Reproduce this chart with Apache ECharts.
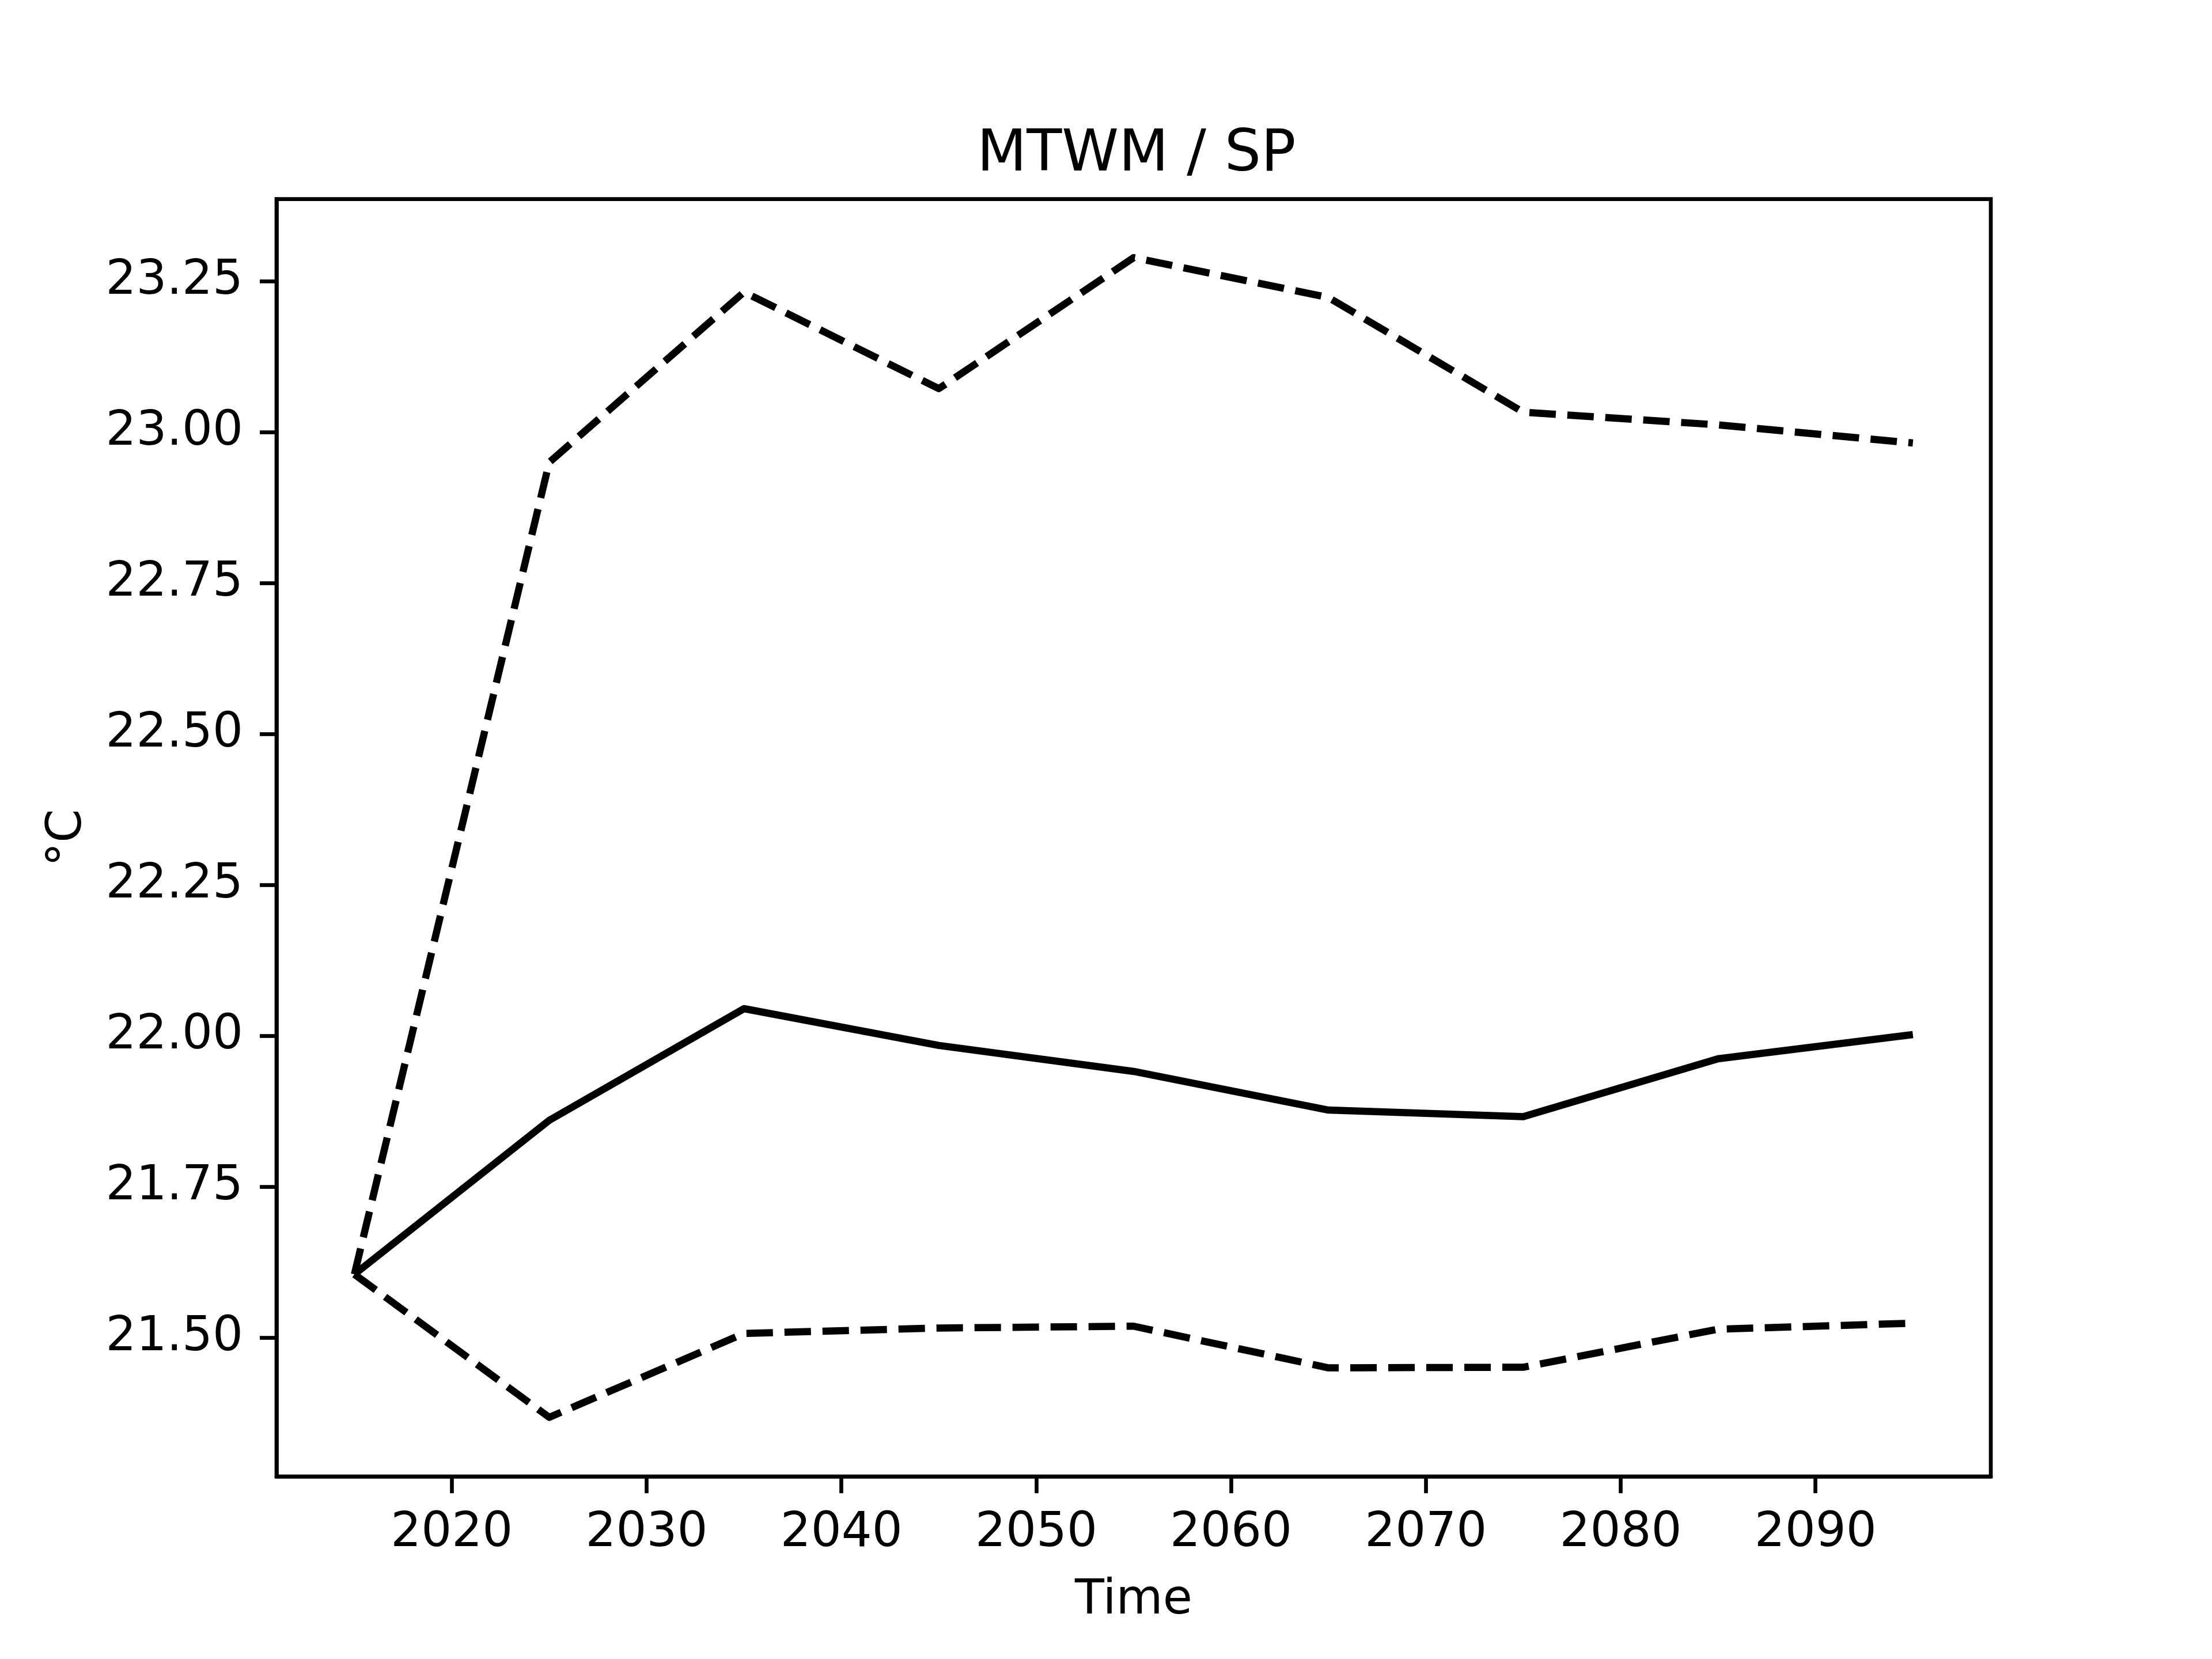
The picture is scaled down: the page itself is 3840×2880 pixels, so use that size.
<!DOCTYPE html>
<html>
<head>
<meta charset="utf-8">
<style>
  html, body { margin: 0; padding: 0; background: #ffffff; }
  #chart { width: 3840px; height: 2880px; }
</style>
<script src="https://cdn.jsdelivr.net/npm/echarts@6/dist/echarts.min.js"></script>
</head>
<body>
<div id="chart"></div>
<script>
const titleText = 'MTWM / SP';
const xLabelText = 'Time';
const yLabelText = '°C';

const years = [2015, 2025, 2035, 2045, 2055, 2065, 2075, 2085, 2095];
const meanValues  = [21.605, 21.860, 22.045, 21.984, 21.941, 21.877, 21.866, 21.962, 22.002];
const upperValues = [21.605, 22.950, 23.232, 23.072, 23.289, 23.223, 23.033, 23.012, 22.982];
const lowerValues = [21.605, 21.368, 21.507, 21.516, 21.519, 21.450, 21.451, 21.514, 21.524];

const xTicks = [2020, 2030, 2040, 2050, 2060, 2070, 2080, 2090];
const yTicks = [21.50, 21.75, 22.00, 22.25, 22.50, 22.75, 23.00, 23.25];

const xRange = [2011, 2099];
const yRange = [21.270, 23.386];

const FONT = 'DejaVu Sans';
const LW = 12.5;
const SPINE = 6.67;
const TICKLEN = 29;

function pairs(xs, ys) { return xs.map((x, i) => [x, ys[i]]); }

const chart = echarts.init(document.getElementById('chart'), null, { renderer: 'canvas' });

const option = {
  animation: false,
  backgroundColor: '#ffffff',
  title: {
    text: titleText,
    left: 1691,
    top: 215,
    textStyle: { fontFamily: FONT, fontSize: 100, fontWeight: 'normal', color: '#000000', lineHeight: 100 }
  },
  grid: {
    left: 480, right: 384, top: 345.6, bottom: 316.8,
    show: true, borderColor: '#000000', borderWidth: SPINE, backgroundColor: 'transparent',
    containLabel: false, outerBoundsMode: 'none'
  },
  xAxis: {
    type: 'value',
    min: xRange[0], max: xRange[1],
    name: xLabelText,
    nameLocation: 'middle',
    nameGap: 175,
    nameTextStyle: { fontFamily: FONT, fontSize: 83.3, color: '#000000', lineHeight: 83 },
    splitLine: { show: false },
    axisLine: { show: true, lineStyle: { color: '#000000', width: SPINE } },
    axisTick: { show: true, inside: false, length: TICKLEN, customValues: xTicks, lineStyle: { color: '#000000', width: SPINE } },
    axisLabel: {
      customValues: xTicks, margin: 58,
      fontFamily: FONT, fontSize: 83.3, color: '#000000', lineHeight: 83,
      formatter: v => String(v)
    }
  },
  yAxis: {
    type: 'value',
    min: yRange[0], max: yRange[1],
    name: yLabelText,
    nameLocation: 'middle',
    nameRotate: 90,
    nameGap: 320,
    nameTextStyle: { fontFamily: FONT, fontSize: 83.3, color: '#000000', lineHeight: 83 },
    splitLine: { show: false },
    axisLine: { show: true, lineStyle: { color: '#000000', width: SPINE } },
    axisTick: { show: true, inside: false, length: TICKLEN, customValues: yTicks, lineStyle: { color: '#000000', width: SPINE } },
    axisLabel: {
      customValues: yTicks, margin: 58,
      fontFamily: FONT, fontSize: 83.3, color: '#000000',
      formatter: v => Number(v).toFixed(2)
    }
  },
  series: [
    {
      name: 'mean', type: 'line', data: pairs(years, meanValues),
      symbol: 'none', clip: false,
      lineStyle: { color: '#000000', width: LW, type: 'solid', join: 'round', cap: 'butt' }
    },
    {
      name: 'upper', type: 'line', data: pairs(years, upperValues),
      symbol: 'none', clip: false,
      lineStyle: { color: '#000000', width: LW, type: [46, 20], join: 'round', cap: 'butt' }
    },
    {
      name: 'lower', type: 'line', data: pairs(years, lowerValues),
      symbol: 'none', clip: false,
      lineStyle: { color: '#000000', width: LW, type: [46, 20], join: 'round', cap: 'butt' }
    }
  ]
};

chart.setOption(option);
</script>
</body>
</html>
